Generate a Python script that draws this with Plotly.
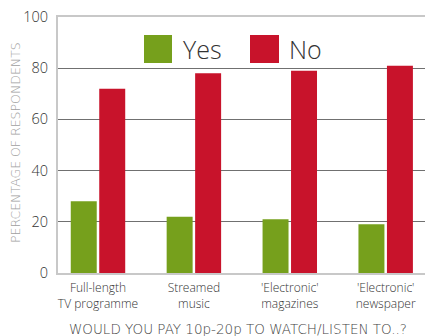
import plotly.graph_objects as go

categories = ["Full-length<br>TV programme", "Streamed<br>music", "'Electronic'<br>magazines", "'Electronic'<br>newspaper"]
yes_values = [28, 22, 21, 19]
no_values = [72, 78, 79, 81]
y_ticks = [0, 20, 40, 60, 80, 100]

GREEN = "#76a01c"
RED = "#c8132b"

fig = go.Figure()
fig.add_trace(go.Bar(x=list(range(4)), y=yes_values, name="Yes", marker_color=GREEN, marker_line_width=0))
fig.add_trace(go.Bar(x=list(range(4)), y=no_values, name="No", marker_color=RED, marker_line_width=0))

fig.update_layout(
    width=425, height=336,
    margin=dict(l=58, r=0, t=17, b=63, autoexpand=False),
    paper_bgcolor="white", plot_bgcolor="white",
    barmode="group", bargap=0.406, bargroupgap=0.088,
    showlegend=False,
    font=dict(family="Open Sans, sans-serif", color="#333"),
)
fig.update_xaxes(
    range=[-0.417, 3.41], automargin=False,
    tickmode="array", tickvals=list(range(4)), ticktext=categories,
    tickfont=dict(size=12, color="#333", family="Open Sans", weight=300),
    showgrid=False, zeroline=False,
    showline=True, mirror=True, linecolor="#c8c8c8", linewidth=2,
    ticks="", ticklabelstandoff=3,
)
fig.update_yaxes(
    range=[0, 100], tickvals=y_ticks, automargin=False,
    tickfont=dict(size=14.5, color="#333", family="Open Sans", weight=300),
    ticklabeloverflow="allow",
    showgrid=True, gridcolor="#707070", gridwidth=1,
    zeroline=False,
    showline=True, linecolor="#c8c8c8", linewidth=2,
    ticks="", ticklabelstandoff=5,
)

# legend drawn large
fig.add_shape(type="rect", xref="paper", yref="paper", x0=(144-58)/367, x1=(172-58)/367,
              y0=(273-63)/256, y1=(273-35)/256, fillcolor=GREEN, line_width=0)
fig.add_shape(type="rect", xref="paper", yref="paper", x0=(250-58)/367, x1=(279-58)/367,
              y0=(273-63)/256, y1=(273-35)/256, fillcolor=RED, line_width=0)
fig.add_annotation(text="Yes", xref="paper", yref="paper", x=(181-58)/367, y=(273-49)/256,
                   xanchor="left", yanchor="middle", showarrow=False,
                   font=dict(size=25, color="#333", family="Open Sans", weight=300))
fig.add_annotation(text="No", xref="paper", yref="paper", x=(287-58)/367, y=(273-49)/256,
                   xanchor="left", yanchor="middle", showarrow=False,
                   font=dict(size=25, color="#333", family="Open Sans", weight=300))

fig.add_annotation(text="PERCENTAGE OF RESPONDENTS", xref="paper", yref="paper",
                   x=(15-58)/367, y=(273-143)/256, textangle=-90,
                   xanchor="center", yanchor="middle", showarrow=False,
                   font=dict(size=12.5, color="#a0a0a0", family="DejaVu Sans", weight=200))
fig.add_annotation(text="WOULD YOU PAY 10p-20p TO WATCH/LISTEN TO..?", xref="paper", yref="paper",
                   x=(238-58)/367, y=(273-329)/256,
                   xanchor="center", yanchor="middle", showarrow=False,
                   font=dict(size=13.5, color="#444", family="DejaVu Sans", weight=200))

# remove the page's default 8px body margin so the figure fills the window exactly
fig.write_html("out.html", config={"displayModeBar": False},
               post_script="document.body.style.margin='0';")
